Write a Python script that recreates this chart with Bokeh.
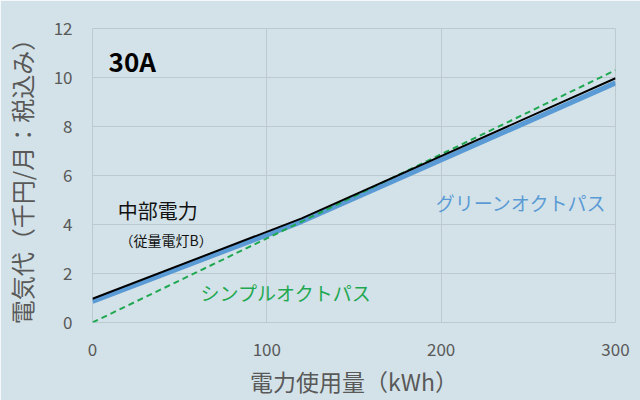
from bokeh.plotting import figure
from bokeh.models import Label, Range1d, FixedTicker
from bokeh.embed import file_html
from bokeh.resources import INLINE

# ---- data ----
usage_kwh = [0, 120, 300]
chubu = [0.97, 4.25, 9.97]            # 中部電力（従量電灯B）
green_octopus = [0.86, 4.12, 9.78]    # グリーンオクトパス
simple_kwh = [0, 300]
simple_octopus = [0.0, 10.3]          # シンプルオクトパス
x_ticks = [0, 100, 200, 300]
y_ticks = [0, 2, 4, 6, 8, 10, 12]

BG = "#d3e2e8"
GRID = "#bccad0"
JP = "Noto Sans CJK JP"
BLUE = "#5b9bd5"
GREEN = "#1fa851"
TICK = "#595959"

p = figure(width=640, height=400, output_backend="svg", toolbar_location=None,
           x_range=Range1d(0, 300), y_range=Range1d(0, 12),
           min_border_left=92, min_border_right=25, min_border_top=28,
           min_border_bottom=78)
p.background_fill_color = BG
p.border_fill_color = BG
p.outline_line_color = GRID
p.outline_line_width = 1

p.xaxis.ticker = FixedTicker(ticks=x_ticks)
p.yaxis.ticker = FixedTicker(ticks=y_ticks)
for ax in (p.xaxis, p.yaxis):
    ax.axis_line_color = None
    ax.major_tick_line_color = None
    ax.minor_tick_line_color = None
    ax.major_tick_out = 0
    ax.major_tick_in = 0
    ax.minor_tick_out = 0
    ax.minor_tick_in = 0
    ax.major_label_text_font = JP
    ax.major_label_text_font_size = "17px"
    ax.major_label_text_color = TICK
    ax.axis_label_text_font = JP
    ax.axis_label_text_color = TICK
    ax.axis_label_text_font_style = "normal"
p.xaxis.axis_label_text_font_size = "23px"
p.yaxis.axis_label_text_font_size = "24px"
p.xaxis.major_label_standoff = 20
p.yaxis.major_label_standoff = 20
p.xaxis.axis_label = "電力使用量（kWh）"
p.yaxis.axis_label = "電気代（千円/月：税込み）"
p.xaxis.axis_label_standoff = 5
p.yaxis.axis_label_standoff = 12

p.xgrid.grid_line_color = GRID
p.ygrid.grid_line_color = GRID
p.xgrid.grid_line_width = 1
p.ygrid.grid_line_width = 1

# lines
p.line(usage_kwh, green_octopus, line_color=BLUE, line_width=5)
p.line(simple_kwh, simple_octopus, line_color=GREEN, line_width=2, line_dash="6 4")
p.line(usage_kwh, chubu, line_color="black", line_width=2)

# annotations (data units)
p.add_layout(Label(x=9.2, y=10.7, text="30A", text_font=JP, text_font_style="bold",
                   text_font_size="26px", text_color="black", text_baseline="middle"))
p.add_layout(Label(x=14.5, y=4.57, text="中部電力", text_font=JP,
                   text_font_size="20px", text_color="#111111", text_baseline="middle"))
p.add_layout(Label(x=15.5, y=3.38, text="（従量電灯B）", text_font=JP,
                   text_font_size="14px", text_color="#111111", text_baseline="middle"))
p.add_layout(Label(x=295, y=4.9, text="グリーンオクトパス", text_font=JP,
                   text_font_size="19px", text_color=BLUE, text_baseline="middle",
                   text_align="right"))
p.add_layout(Label(x=62, y=1.21, text="シンプルオクトパス", text_font=JP,
                   text_font_size="19px", text_color=GREEN, text_baseline="middle"))

html = file_html(p, INLINE)
html = html.replace("<body", f'<body style="background-color:{BG};"', 1)
open("out.html", "w").write(html)
